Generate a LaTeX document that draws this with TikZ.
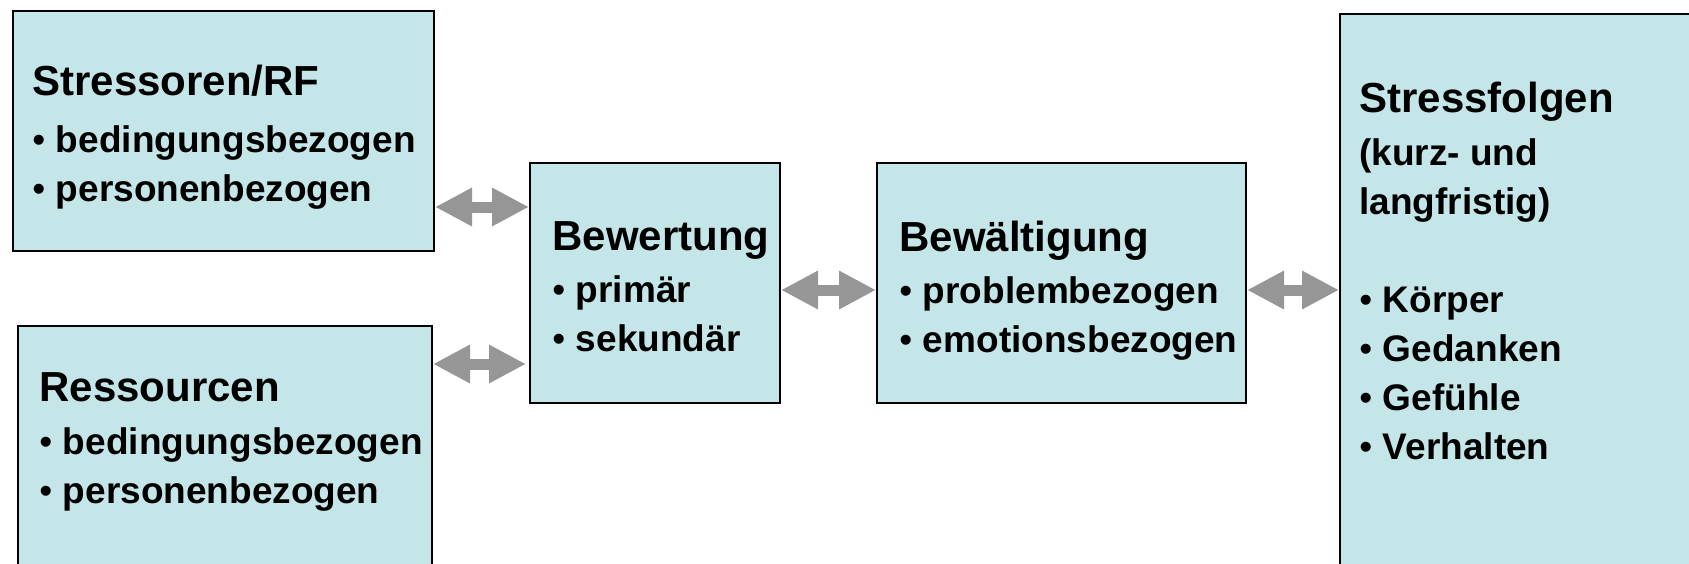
\documentclass[tikz,border=0pt]{standalone}
\usepackage{fontspec}
\setmainfont{Liberation Sans}
\usetikzlibrary{arrows.meta, positioning}
\definecolor{boxcyan}{RGB}{196,230,232}
\definecolor{arrowgray}{RGB}{150,150,150}
\newcommand{\kopf}[1]{{\fontsize{21}{24.5}\selectfont #1}}
\newcommand{\pkt}{{\mdseries •}\hspace{5.3pt}}

\begin{document}
\begin{tikzpicture}[x=0.5pt, y=-0.5pt,
		box/.style={draw=black, line width=1pt, fill=boxcyan, anchor=north west, inner sep=0pt},
		txt/.style={anchor=north west, align=left, inner sep=0pt, font=\fontsize{18.5}{24.5}\selectfont\bfseries},
		biarrow/.style={arrowgray, line width=5.5pt, {Triangle[width=18pt,length=18.5pt]}-{Triangle[width=18pt,length=18.5pt]}}]
		% Bildbereich
		\useasboundingbox (0,0) rectangle (1689,563);
		% Kaesten
		\node[box, minimum width=210.5pt, minimum height=120pt] (stressoren) at (12,10) {};
		\node[box, minimum width=207pt, minimum height=140pt] (ressourcen) at (17,325) {};
		\node[box, minimum width=125pt, minimum height=120pt] (bewertung) at (529,162) {};
		\node[box, minimum width=184.5pt, minimum height=120pt] (bewaeltigung) at (876,162) {};
		\node[box, minimum width=190.5pt, minimum height=290pt] (folgen) at (1339,13) {};
		% Beschriftung
		\node[txt, below right=27.5pt and 10pt of stressoren.north west] (stressorentxt) {\kopf{Stressoren/RF}\\[4pt]\pkt bedingungsbezogen\\\pkt personenbezogen};
		\node[txt, below right=23.5pt and 11pt of ressourcen.north west] (ressourcentxt) {\kopf{Ressourcen}\\[2pt]\pkt bedingungsbezogen\\\pkt personenbezogen};
		\node[txt, below right=29.5pt and 11.5pt of bewertung.north west] (bewertungtxt) {\kopf{Bewertung}\\[1.5pt]\pkt primär\\\pkt sekundär};
		\node[txt, below right=29.5pt and 11.5pt of bewaeltigung.north west] (bewaeltigungtxt) {\kopf{Bewältigung}\\[1.5pt]\pkt problembezogen\\\pkt emotionsbezogen};
		\node[txt, below right=34.5pt and 10pt of folgen.north west] (folgentxt) {\kopf{Stressfolgen}\\[2pt](kurz- und\\langfristig)\\[24.5pt]\pkt Körper\\\pkt Gedanken\\\pkt Gefühle\\\pkt Verhalten};
		% Pfeile
		\coordinate (p1) at ([yshift=-22.5pt]bewertung.north west);
		\coordinate (p2) at ([yshift=20pt]bewertung.south west);
		\coordinate (p3) at ([yshift=-3.5pt]bewaeltigung.east);
		\draw[biarrow] (p1 -| stressoren.east) -- (p1);
		\draw[biarrow, shorten >=1.5pt] (p2 -| ressourcen.east) -- (p2);
		\draw[biarrow] ([yshift=-3.5pt]bewertung.east) -- ([yshift=-3.5pt]bewaeltigung.west);
		\draw[biarrow] (p3) -- (p3 -| folgen.west);
	\end{tikzpicture}
\end{document}
